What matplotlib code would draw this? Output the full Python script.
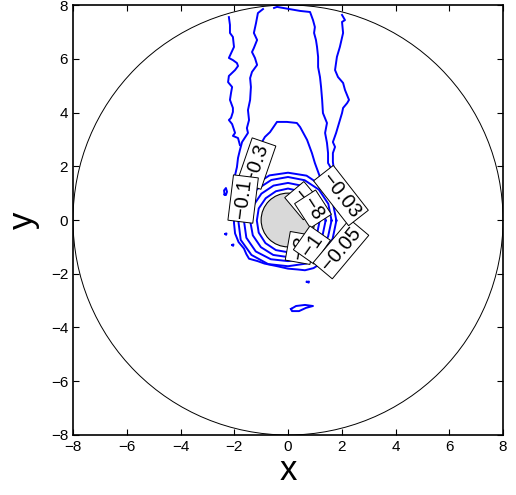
import matplotlib.pyplot as plt
from matplotlib.patches import Circle
import numpy as np

plt.rcParams['font.family'] = ['Liberation Sans', 'DejaVu Sans']

# domain and body
domain_radius = 8.0
body_radius = 1.0

# wake contours running up to the outer boundary
left_outer_x = [-2.20, -2.16, -2.16, -2.05, -2.01, -2.20, -2.05, -1.90, -1.86, -1.97, -2.20, -2.23,
                -2.08, -2.12, -2.16, -2.05, -2.05, -2.12, -2.20, -2.08, -1.97, -2.05, -1.86, -1.79]
left_outer_y = [7.55, 7.26, 6.96, 6.81, 6.44, 6.03, 5.95, 5.84, 5.73, 5.58, 5.36, 5.13,
                4.95, 4.73, 4.47, 4.17, 4.02, 3.80, 3.72, 3.57, 3.24, 3.13, 3.05, 2.79]

# -0.1 contour: down the left side of the wake and round underneath the body
c01_x = [-0.93, -1.12, -1.19, -1.27, -1.15, -1.27, -1.34, -1.23, -1.15, -1.34, -1.41, -1.38,
         -1.41, -1.49, -1.45, -1.53, -1.49, -1.71, -1.79, -1.86, -1.90, -1.97, -1.93, -2.01,
         -2.01, -1.97, -1.84, -1.64, -1.55, -1.45, -1.13, -0.88, -0.40, 0.00, 0.35, 0.63, 0.95, 1.20, 1.38]
c01_y = [7.85, 7.70, 7.33, 6.96, 6.70, 6.40, 6.25, 6.03, 5.77, 5.51, 5.28, 4.95,
         4.47, 4.09, 3.72, 3.42, 3.24, 2.90, 2.60, 2.31, 1.97, 1.67, 1.12, 0.37,
         -0.11, -0.50, -0.82, -1.06, -1.27, -1.44, -1.53, -1.62, -1.72, -1.81, -1.84, -1.87, -1.79, -1.63, -1.42]

right_inner_x = [-0.52, -0.41, 0.45, 0.82, 0.93, 1.00, 0.97, 1.04, 1.08, 1.12, 1.12, 1.19, 1.23,
                 1.27, 1.30, 1.45, 1.38, 1.45, 1.49, 1.49, 1.64]
right_inner_y = [7.89, 7.93, 7.78, 7.74, 7.44, 7.18, 6.96, 6.70, 6.44, 6.07, 5.69, 5.32, 4.95,
                 4.47, 3.98, 3.61, 3.24, 2.87, 2.49, 2.12, 1.86]

right_outer_x = [2.01, 2.12, 2.01, 2.05, 1.93, 1.82, 1.75, 1.86, 2.05, 2.12, 2.27, 2.20, 2.05,
                 2.01, 1.90, 1.79, 1.67, 1.75, 1.67, 1.67, 1.71]
right_outer_y = [7.63, 7.44, 7.37, 6.96, 6.44, 6.07, 5.58, 5.32, 5.10, 4.84, 4.47, 4.35, 4.17,
                 3.98, 3.61, 3.24, 2.90, 2.72, 2.49, 2.16, 1.86]

# -0.3 contour above the body
c03_x = [-1.12, -0.97, -0.86, -0.67, -0.41, -0.04, 0.33, 0.45, 0.71, 0.89, 1.00, 1.19, 1.27]
c03_y = [2.72, 2.90, 3.09, 3.27, 3.65, 3.65, 3.61, 3.46, 2.98, 2.49, 2.12, 1.60, 1.30]

# closed contours hugging the body (innermost first)
ring1_x = [1.18, 1.09, 0.83, 0.45, 0.00, -0.45, -0.83, -1.09, -1.16, -1.09, -0.84, -0.45, 0.00, 0.45, 0.84, 1.09, 1.18]
ring1_y = [-0.02, 0.43, 0.81, 1.07, 1.17, 1.07, 0.81, 0.43, -0.02, -0.47, -0.86, -1.12, -1.20, -1.12, -0.86, -0.47, -0.02]
ring2_x = [1.40, 1.29, 0.99, 0.54, 0.00, -0.54, -0.99, -1.30, -1.41, -1.31, -1.01, -0.55, 0.00, 0.54, 0.99, 1.29, 1.40]
ring2_y = [-0.02, 0.52, 0.97, 1.27, 1.38, 1.28, 0.98, 0.52, -0.02, -0.57, -1.01, -1.30, -1.38, -1.30, -0.99, -0.55, -0.02]
ring3_x = [1.62, 1.50, 1.15, 0.62, 0.00, -0.62, -1.16, -1.52, -1.64, -1.55, -1.20, -0.64, 0.00, 0.61, 1.14, 1.49, 1.62]
ring3_y = [-0.02, 0.60, 1.13, 1.48, 1.60, 1.49, 1.14, 0.60, -0.02, -0.66, -1.17, -1.46, -1.53, -1.45, -1.12, -0.62, -0.02]
ring4_x = [1.80, 1.66, 1.27, 0.69, 0.00, -0.69, -1.29, -1.70, -1.85, -1.76, -1.36, -0.74, 0.00, 0.69, 1.27, 1.66, 1.80]
ring4_y = [-0.02, 0.68, 1.26, 1.65, 1.76, 1.66, 1.27, 0.68, -0.02, -0.74, -1.30, -1.64, -1.72, -1.62, -1.24, -0.70, -0.02]

# small isolated pockets
pocket_x = [[0.11, 0.30, 0.63, 0.93, 0.67, 0.41, 0.15, 0.11],
            [0.70, 0.78, 0.77, 0.70],
            [-2.36, -2.38, -2.31, -2.27, -2.31, -2.36],
            [-2.33, -2.29, -2.30, -2.33],
            [-2.07, -2.03, -2.04, -2.07]]
pocket_y = [[-3.31, -3.20, -3.16, -3.20, -3.27, -3.39, -3.39, -3.31],
            [-2.30, -2.29, -2.33, -2.30],
            [0.95, 1.10, 1.19, 1.05, 0.93, 0.95],
            [-0.52, -0.50, -0.55, -0.52],
            [-0.93, -0.91, -0.96, -0.93]]

# inline contour labels (drawn in this order)
label_text = ['\u22121', '\u22128', '\u22123', '\u22121', '\u22120.05', '\u22120.03', '\u22120.3', '\u22120.1']
label_x = [0.58, 0.93, 0.45, 0.89, 1.97, 1.97, -1.17, -1.67]
label_y = [0.72, 0.41, -1.04, -0.93, -1.08, 0.91, 2.10, 0.78]
label_rot = [-50, -57, 80, 55, 50, -52, 71, 83]

ticks = [-8, -6, -4, -2, 0, 2, 4, 6, 8]

fig = plt.figure(figsize=(5.16, 4.95), dpi=100)
ax = fig.add_axes([0.1415, 0.1212, 0.8333, 0.8687])

ax.add_patch(Circle((0, 0), domain_radius, fill=False, edgecolor='k', linewidth=0.7))

blue = (0, 0, 1)
lw = 1.4
for xs, ys in [(left_outer_x, left_outer_y), (c01_x, c01_y), (right_inner_x, right_inner_y),
               (right_outer_x, right_outer_y), (c03_x, c03_y), (ring1_x, ring1_y),
               (ring2_x, ring2_y), (ring3_x, ring3_y), (ring4_x, ring4_y)]:
    ax.plot(xs, ys, color=blue, linewidth=lw)
for xs, ys in zip(pocket_x, pocket_y):
    ax.plot(xs, ys, color=blue, linewidth=lw)

ax.add_patch(Circle((0, 0), body_radius, facecolor=(0.85, 0.85, 0.85), edgecolor='k',
                    linewidth=0.8, zorder=3))

for t, x, y, r in zip(label_text, label_x, label_y, label_rot):
    ax.text(x, y, t, rotation=r, rotation_mode='anchor', ha='center', va='center',
            fontsize=14.5, zorder=5,
            bbox=dict(boxstyle='square,pad=0.15', facecolor='white', edgecolor='k', linewidth=0.7))

ax.set_xlim(-8, 8)
ax.set_ylim(-8, 8)
ax.set_aspect('equal')
ax.set_xticks(ticks)
ax.set_yticks(ticks)
ax.tick_params(direction='in', top=True, right=True, labelsize=11, length=4, width=0.8)
for s in ax.spines.values():
    s.set_linewidth(1.2)
ax.set_xlabel('x', fontsize=25, labelpad=0)
ax.set_ylabel('y', fontsize=25, labelpad=8)

fig.savefig('out.png', dpi=100)
